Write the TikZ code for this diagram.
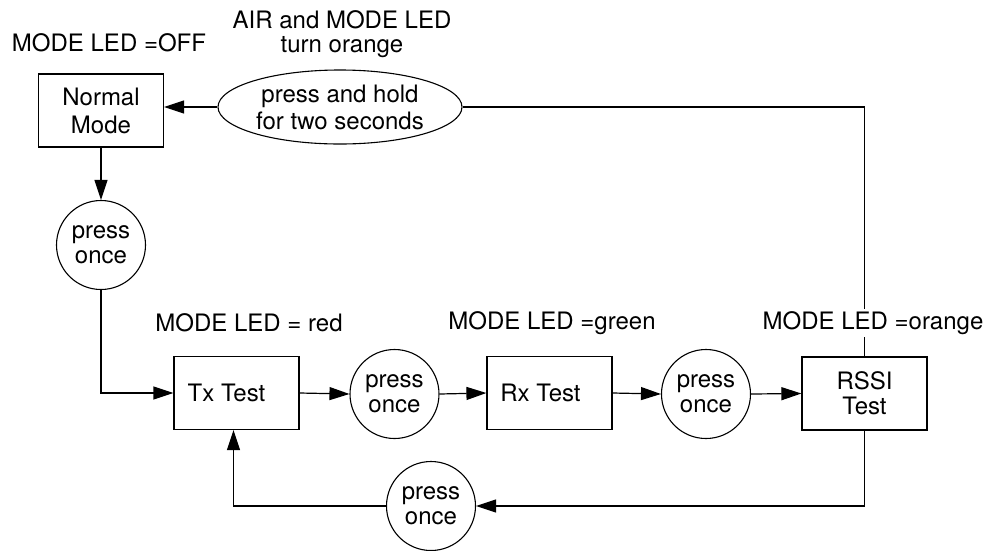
\documentclass[tikz,border=0pt]{standalone}
\usepackage{fontspec}
\setmainfont{TeX Gyre Heros}
\usetikzlibrary{arrows.meta,shapes.geometric}
\begin{document}
\begin{tikzpicture}[x=1pt,y=-1pt,
  every node/.style={font=\fontsize{24}{25}\selectfont, align=center, inner sep=0pt},
  boxnode/.style={draw, line width=1.2pt, minimum width=125pt, minimum height=73pt},
  pressnode/.style={draw, circle, line width=1.1pt, minimum size=89pt},
  holdnode/.style={draw, ellipse, line width=1.1pt, minimum width=244pt, minimum height=74pt},
  lbl/.style={fill=white, inner sep=2pt},
  conn/.style={line width=1.2pt},
  arr/.style={conn, -{Triangle[length=20pt,width=13pt]}}]
\useasboundingbox (0,0) rectangle (986,550);

\node[boxnode, font=\fontsize{24}{28}\selectfont] (normal) at (101,110.5) {Normal\\Mode};
\node[holdnode, font=\fontsize{24}{27}\selectfont] (hold) at (340,107) {press and hold\\for two seconds};
\node[pressnode] (p1) at (101,245) {press\\once};
\node[boxnode] (tx) at (236.5,393) {Tx Test\hspace*{20pt}};
\node[pressnode] (p2) at (394.5,394) {press\\once};
\node[boxnode] (rx) at (549.5,393) {Rx Test\hspace*{18pt}};
\node[pressnode] (p3) at (706,394) {press\\once};
\node[boxnode] (rssi) at (864.5,393.5) {RSSI\\Test};
\node[pressnode] (p4) at (431,506) {press\\once};

\draw[arr] (hold.west) -- (hold.west -| normal.east);
\draw[conn] (rssi.north) |- (hold.east);
\draw[arr] (normal.south) -- (p1.north);
\draw[arr] (p1.south) |- (tx.west);
\draw[arr] (tx.east) -- (p2.west);
\draw[arr] (p2.east) -- (rx.west);
\draw[arr] (rx.east) -- (p3.west);
\draw[arr] (p3.east) -- (rssi.west);
\draw[arr] (rssi.south) |- (p4.east);
\draw[arr] (p4.west) -| ([xshift=-3pt]tx.south);

\node (l0) at (109,43) {MODE LED =OFF};
\node[font=\fontsize{24}{24}\selectfont] (lair) at (342,34) {AIR and MODE LED\\turn orange};
\node (lred) at (249,323) {MODE LED = red};
\node (lgreen) at (552,323) {MODE LED =green};
\node[lbl] (lorange) at (873,323) {MODE LED =orange};
\end{tikzpicture}
\end{document}
